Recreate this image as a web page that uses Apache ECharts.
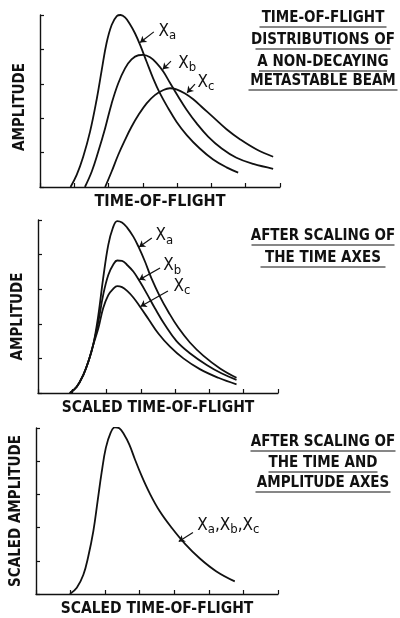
<!DOCTYPE html>
<html>
<head>
<meta charset="utf-8">
<script src="https://cdn.jsdelivr.net/npm/echarts@6/dist/echarts.min.js"></script>
<style>
html, body { margin: 0; padding: 0; background: #fff; }
#chart { width: 400px; height: 618px; }
</style>
</head>
<body>
<div id="chart"></div>
<script>
// values, in tick units (x: 0..7, y: 0..5)
var topXa = [[0.89,0],[1.07,0.35],[1.26,0.88],[1.46,1.61],[1.65,2.53],[1.80,3.40],[1.94,4.18],[2.09,4.71],[2.24,4.97],[2.35,5.0],[2.48,4.93],[2.62,4.74],[2.77,4.47],[2.92,4.13],[3.11,3.64],[3.30,3.16],[3.50,2.72],[3.74,2.29],[3.98,1.90],[4.28,1.51],[4.66,1.12],[5.05,0.80],[5.44,0.57],[5.78,0.42]];
var topXb = [[1.31,0],[1.51,0.45],[1.70,1.03],[1.90,1.71],[2.09,2.43],[2.28,3.01],[2.48,3.45],[2.67,3.71],[2.87,3.83],[3.01,3.84],[3.21,3.77],[3.40,3.60],[3.60,3.35],[3.79,3.03],[4.03,2.63],[4.28,2.24],[4.57,1.85],[4.91,1.46],[5.30,1.12],[5.73,0.85],[6.22,0.67],[6.80,0.53]];
var topXc = [[1.90,0],[2.09,0.45],[2.28,0.93],[2.48,1.37],[2.67,1.75],[2.87,2.09],[3.11,2.43],[3.35,2.67],[3.60,2.82],[3.79,2.87],[3.98,2.84],[4.23,2.72],[4.47,2.55],[4.76,2.29],[5.05,2.03],[5.44,1.68],[5.83,1.39],[6.32,1.09],[6.80,0.88]];

var midXa = [[0.93,0],[1.13,0.18],[1.32,0.52],[1.47,0.91],[1.61,1.39],[1.76,2.25],[1.90,3.31],[2.05,4.28],[2.18,4.76],[2.31,4.97],[2.45,4.93],[2.60,4.78],[2.78,4.52],[2.93,4.23],[3.12,3.80],[3.31,3.31],[3.56,2.78],[3.80,2.35],[4.09,1.89],[4.43,1.46],[4.82,1.08],[5.31,0.71],[5.79,0.44]];
var midXb = [[0.93,0],[1.13,0.18],[1.32,0.52],[1.47,0.91],[1.61,1.39],[1.76,2.06],[1.90,2.83],[2.05,3.41],[2.20,3.72],[2.31,3.83],[2.45,3.82],[2.60,3.70],[2.78,3.51],[2.97,3.22],[3.17,2.88],[3.41,2.45],[3.70,1.97],[4.04,1.50],[4.43,1.15],[4.92,0.81],[5.35,0.57],[5.79,0.38]];
var midXc = [[0.93,0],[1.13,0.18],[1.32,0.52],[1.47,0.91],[1.61,1.39],[1.76,1.87],[1.90,2.45],[2.05,2.83],[2.20,3.02],[2.31,3.09],[2.45,3.06],[2.60,2.95],[2.78,2.76],[2.97,2.50],[3.22,2.14],[3.51,1.72],[3.85,1.34],[4.24,1.00],[4.72,0.69],[5.26,0.44],[5.79,0.25]];

var lowX = [[0.98,0],[1.18,0.19],[1.37,0.58],[1.51,1.12],[1.66,1.90],[1.78,2.78],[1.90,3.67],[2.02,4.40],[2.16,4.86],[2.28,5.02],[2.41,4.99],[2.54,4.82],[2.70,4.50],[2.86,4.06],[3.05,3.57],[3.29,3.03],[3.58,2.49],[3.92,2.00],[4.31,1.51],[4.74,1.07],[5.22,0.68],[5.75,0.38]];

var xNames = ["TIME-OF-FLIGHT", "SCALED TIME-OF-FLIGHT", "SCALED TIME-OF-FLIGHT"];
var yNames = ["AMPLITUDE", "AMPLITUDE", "SCALED AMPLITUDE"];
var notes = [
  ["TIME-OF-FLIGHT", "DISTRIBUTIONS OF", "A NON-DECAYING", "METASTABLE BEAM"],
  ["AFTER SCALING OF", "THE TIME AXES"],
  ["AFTER SCALING OF", "THE TIME AND", "AMPLITUDE AXES"]
];

var font = "DejaVu Sans Condensed";
var ink = "#111";

var myChart = echarts.init(document.getElementById("chart"));

var grids = [
  { left: 40, top: 15, width: 240, height: 172 },
  { left: 38, top: 220, width: 240, height: 173 },
  { left: 36, top: 428, width: 242, height: 170 }
];
// hand lettering differs a little from panel to panel
var xNameSize = [16, 15.5, 15.5];
var yNamePad = [[0, 12, 0, 0], [0, 20, 0, 0], [0, 0, 0, 0]];

var xAxes = [], yAxes = [];
for (var i = 0; i < 3; i++) {
  xAxes.push({
    type: "value", gridIndex: i, min: 0, max: 7, interval: 1,
    name: xNames[i], nameLocation: "middle", nameGap: 7,
    nameTextStyle: { color: ink, fontFamily: font, fontWeight: "bold", fontSize: xNameSize[i], verticalAlign: "top" },
    axisLine: { show: true, lineStyle: { color: ink, width: 1.4 } },
    axisTick: { show: true, inside: true, length: 4, lineStyle: { color: ink, width: 1.2 } },
    axisLabel: { show: false },
    splitLine: { show: false }
  });
  yAxes.push({
    type: "value", gridIndex: i, min: 0, max: 5, interval: 1,
    name: yNames[i], nameLocation: "middle", nameGap: 12, nameRotate: 90,
    nameTextStyle: { color: ink, fontFamily: font, fontWeight: "bold", fontSize: 15,
      verticalAlign: "bottom", padding: yNamePad[i] },
    axisLine: { show: true, lineStyle: { color: ink, width: 1.4 } },
    axisTick: { show: true, inside: true, length: 4, lineStyle: { color: ink, width: 1.2 } },
    axisLabel: { show: false },
    splitLine: { show: false }
  });
}

var rich = {
  x: { fontFamily: font, fontSize: 17, color: ink, lineHeight: 20 },
  s: { fontFamily: font, fontSize: 13, color: ink, lineHeight: 20, padding: [9, 0, 0, 0] }
};

function curve(name, idx, data, arrow, labelAt, text) {
  return {
    name: name, type: "line", xAxisIndex: idx, yAxisIndex: idx,
    data: data, smooth: 0.4, showSymbol: false, silent: true,
    lineStyle: { color: ink, width: 1.8 },
    markLine: {
      silent: true, animation: false,
      symbol: ["none", "arrow"], symbolSize: 6,
      label: { show: false },
      lineStyle: { color: ink, width: 1.2, type: "solid" },
      data: [[{ coord: arrow[0] }, { coord: arrow[1] }]]
    },
    markPoint: {
      silent: true, animation: false,
      symbol: "circle", symbolSize: 1,
      itemStyle: { color: "rgba(0,0,0,0)" },
      label: { show: true, position: "right", distance: 0, formatter: text, rich: rich },
      data: [{ coord: labelAt }]
    }
  };
}

var series = [
  curve("Xa", 0, topXa, [[3.32, 4.51], [2.92, 4.20]], [3.44, 4.53], "{x|X}{s|a}"),
  curve("Xb", 0, topXb, [[3.82, 3.66], [3.58, 3.42]], [4.02, 3.60], "{x|X}{s|b}"),
  curve("Xc", 0, topXc, [[4.52, 2.99], [4.29, 2.74]], [4.58, 3.05], "{x|X}{s|c}"),
  curve("Xa", 1, midXa, [[3.32, 4.48], [2.95, 4.22]], [3.41, 4.54], "{x|X}{s|a}"),
  curve("Xb", 1, midXb, [[3.56, 3.61], [2.95, 3.27]], [3.64, 3.67], "{x|X}{s|b}"),
  curve("Xc", 1, midXc, [[3.79, 2.95], [2.99, 2.50]], [3.94, 3.09], "{x|X}{s|c}"),
  curve("Xa,Xb,Xc", 2, lowX, [[4.54, 1.85], [4.13, 1.58]], [4.65, 2.06], "{x|X}{s|a}{x|,X}{s|b}{x|,X}{s|c}")
];

// captions on the right, each line underlined
var graphic = [];
var noteMid = [[18, 40, 62, 81], [236, 258], [442, 463, 483]];
var noteWidth = [[127, 135, 128, 149], [143, 125], [145, 109, 135]];
for (var p = 0; p < notes.length; p++) {
  for (var j = 0; j < notes[p].length; j++) {
    var cy = noteMid[p][j];
    var w = noteWidth[p][j];
    graphic.push({
      type: "text", x: 323, y: cy, silent: true,
      style: { text: notes[p][j], align: "center", verticalAlign: "middle",
        textAlign: "center", textVerticalAlign: "middle", fill: ink,
        font: "bold 15px '" + font + "'" }
    });
    graphic.push({
      type: "line", silent: true,
      shape: { x1: 323 - w / 2, y1: cy + 9, x2: 323 + w / 2, y2: cy + 9 },
      style: { stroke: ink, lineWidth: 1.2 }
    });
  }
}

myChart.setOption({
  backgroundColor: "#fff",
  animation: false,
  grid: grids,
  xAxis: xAxes,
  yAxis: yAxes,
  series: series,
  graphic: graphic
});
</script>
</body>
</html>
